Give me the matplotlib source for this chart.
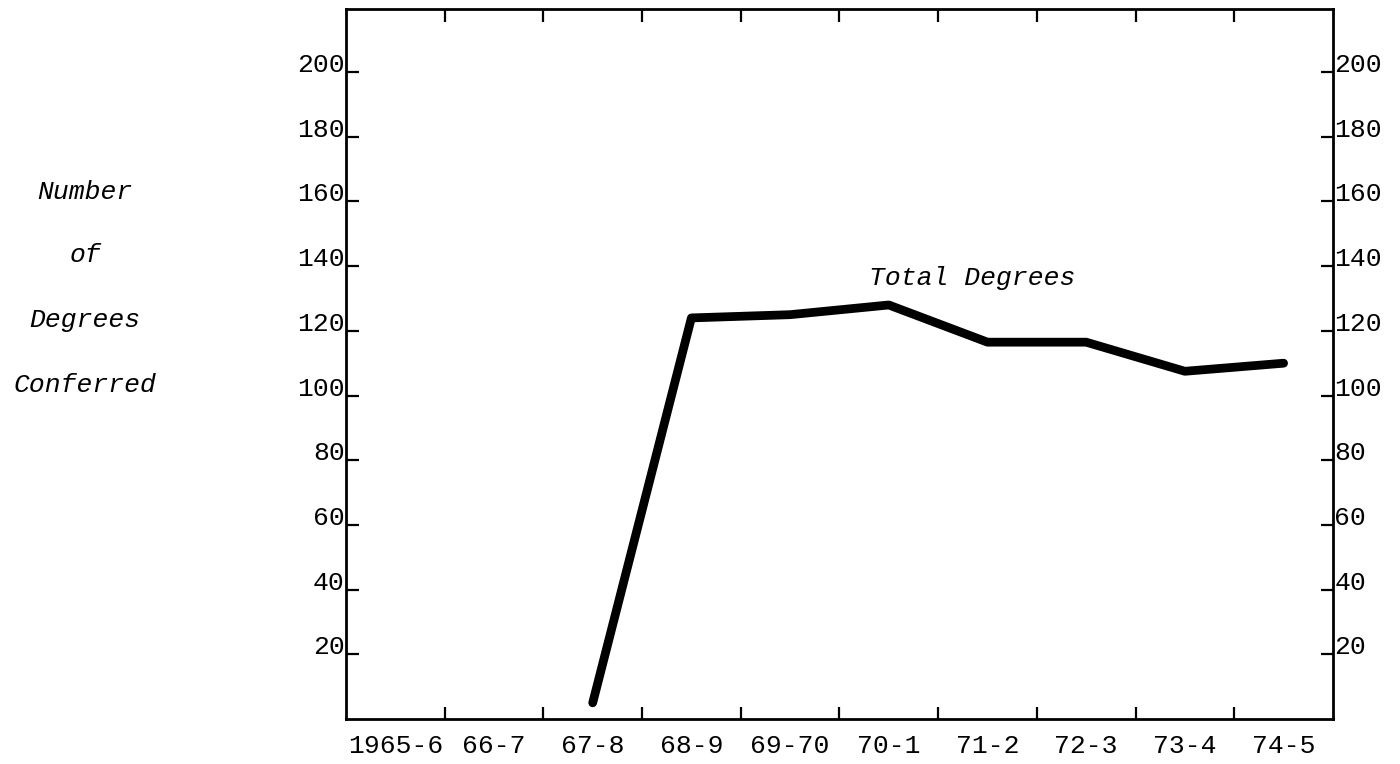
import numpy as np
import matplotlib
matplotlib.use('Agg')
import matplotlib.pyplot as plt

years = ['1965-6', '66-7', '67-8', '68-9', '69-70', '70-1', '71-2', '72-3', '73-4', '74-5']
total_degrees = [np.nan, np.nan, 5, 124, 125, 128, 116.5, 116.5, 107.5, 110]
y_ticks = [20, 40, 60, 80, 100, 120, 140, 160, 180, 200]

mono = 'Liberation Mono'

fig = plt.figure(figsize=(14, 7.64), dpi=100)
ax = fig.add_axes([0.2471, 0.0589, 0.705, 0.9293])

x = np.arange(len(years))
ax.plot(x, total_degrees, color='black', lw=6.3,
        solid_capstyle='round', solid_joinstyle='round')

ax.set_xlim(-0.5, len(years) - 0.5)
ax.set_ylim(0, 219.5)

# tick marks sit on the boundaries between years, labels in the middle
ax.set_xticks(x[:-1] + 0.5)
ax.set_xticklabels([])
ax.set_xticks(x, minor=True)
ax.set_xticklabels(years, minor=True, fontfamily=mono, fontsize=19)
ax.tick_params(axis='x', which='major', direction='in', length=9, width=1.6,
               top=True, bottom=True)
ax.tick_params(axis='x', which='minor', length=0, pad=11)

ax.set_yticks(y_ticks)
ax.set_yticklabels([str(v) for v in y_ticks], fontfamily=mono, fontsize=19)
ax.tick_params(axis='y', direction='in', length=9, width=1.6, pad=1,
               left=True, right=True, labelleft=True, labelright=True)
for t in ax.yaxis.get_major_ticks():
    t.label1.set_verticalalignment('baseline')
    t.label2.set_verticalalignment('baseline')

for s in ax.spines.values():
    s.set_linewidth(2)

ax.text(5.84, 136.3, 'Total Degrees', fontfamily=mono, style='italic',
        fontsize=19, ha='center', va='center')

label_lines = ['Number', 'of', 'Degrees', 'Conferred']
label_y = [0.749, 0.666, 0.581, 0.496]
for txt, yy in zip(label_lines, label_y):
    fig.text(0.0607, yy, txt, fontfamily=mono, style='italic', fontsize=19,
             ha='center', va='center')

fig.savefig('out.png', dpi=100)
